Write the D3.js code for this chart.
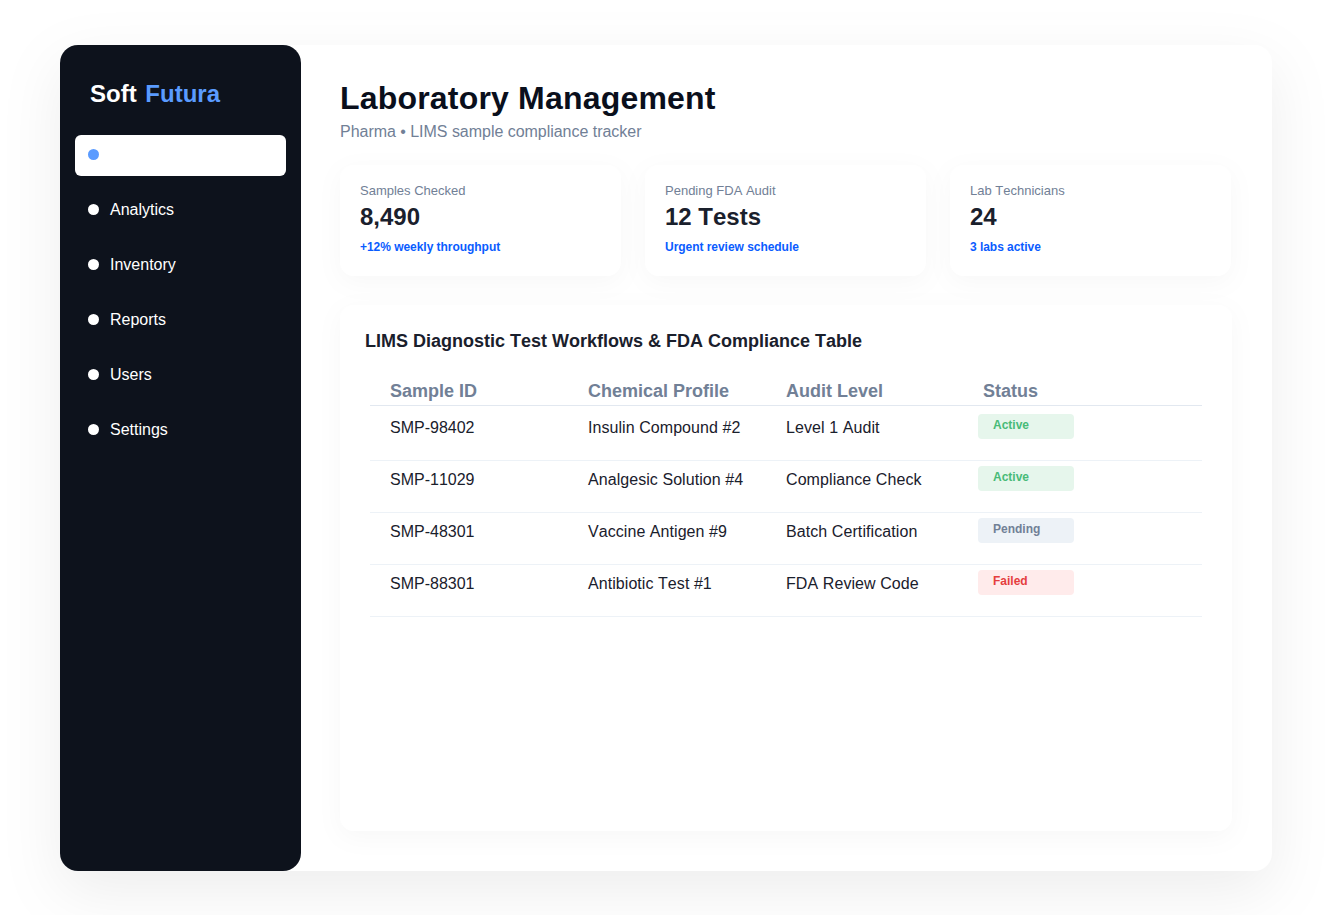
<!DOCTYPE html>
<html lang="en">
<head>
<meta charset="UTF-8">
<title>Laboratory Management</title>
<style>
    html, body { margin: 0; background: #fff; overflow: hidden; }
    svg { display: block; font-family: "Liberation Sans", Arial, sans-serif; font-kerning: none; text-rendering: optimizeSpeed; }
</style>
</head>
<body>
<script src="https://cdn.jsdelivr.net/npm/d3@7/dist/d3.min.js"></script>
<script>
    var navItems = ['Dashboard', 'Analytics', 'Inventory', 'Reports', 'Users', 'Settings'];
    var cardLabels = ['Samples Checked', 'Pending FDA Audit', 'Lab Technicians'];
    var cardValues = ['8,490', '12 Tests', '24'];
    var cardNotes = ['+12% weekly throughput', 'Urgent review schedule', '3 labs active'];
    var columns = ['Sample ID', 'Chemical Profile', 'Audit Level', 'Status'];
    var sampleIds = ['SMP-98402', 'SMP-11029', 'SMP-48301', 'SMP-88301'];
    var profiles = ['Insulin Compound #2', 'Analgesic Solution #4', 'Vaccine Antigen #9', 'Antibiotic Test #1'];
    var auditLevels = ['Level 1 Audit', 'Compliance Check', 'Batch Certification', 'FDA Review Code'];
    var statuses = ['Active', 'Active', 'Pending', 'Failed'];

    var statusFill = {Active: '#e6f6ec', Pending: '#edf2f7', Failed: '#ffebeb'};
    var statusText = {Active: '#48bb78', Pending: '#718096', Failed: '#e53e3e'};

    var svg = d3.select('body').append('svg')
            .attr('width', 1331)
            .attr('height', 915);

    var defs = svg.append('defs');
    function shadow(id, dy, blur, opacity) {
        defs.append('filter')
            .attr('id', id)
            .attr('x', '-20%').attr('y', '-50%')
            .attr('width', '140%').attr('height', '200%')
            .attr('color-interpolation-filters', 'sRGB')
            .append('feDropShadow')
            .attr('dx', 0).attr('dy', dy)
            .attr('stdDeviation', blur)
            .attr('flood-color', '#000')
            .attr('flood-opacity', opacity);
    }
    shadow('panelShadow', 20, 30, 0.07);
    shadow('cardShadow', 6, 12, 0.03);

    function box(parent, x, y, w, h, r, fill) {
        return parent.append('rect')
            .attr('x', x).attr('y', y)
            .attr('width', w).attr('height', h)
            .attr('rx', r).attr('ry', r)
            .attr('fill', fill);
    }
    function label(parent, x, y, str, size, weight, fill) {
        return parent.append('text')
            .attr('x', x).attr('y', y)
            .attr('font-size', size)
            .attr('font-weight', weight)
            .attr('fill', fill)
            .text(str);
    }

    // shell
    box(svg, 60, 45, 1212, 826, 18, '#fff').attr('filter', 'url(#panelShadow)');
    box(svg, 60, 45, 241, 826, 18, '#0d121c');

    // sidebar
    var logo = label(svg, 90, 102, 'Soft ', 24, 700, '#fff');
    logo.append('tspan').attr('fill', '#5a9bff').attr('dx', 2).text('Futura');

    var navY = d3.scalePoint().domain(navItems).range([154.5, 429.5]);

    box(svg, 75, 135, 211, 41, 6, '#fff');

    var nav = svg.selectAll('g.nav')
            .data(navItems)
            .enter()
            .append('g')
            .attr('class', 'nav')
            .attr('transform', function(d) { return 'translate(0,' + navY(d) + ')'; });

    nav.append('circle')
        .attr('cx', 93.5)
        .attr('r', 5.5)
        .attr('fill', function(d, i) { return i === 0 ? '#5a9bff' : '#fff'; });

    // active item label is white on white in the source
    nav.append('text')
        .attr('x', 110)
        .attr('y', 5.5)
        .attr('font-size', 16)
        .attr('fill', '#fff')
        .text(function(d) { return d; });

    // header
    label(svg, 340, 109, 'Laboratory Management', 32, 700, '#0a0f1c').attr('letter-spacing', 0.19);
    label(svg, 340, 137, 'Pharma \u2022 LIMS sample compliance tracker', 16, 400, '#718096').attr('letter-spacing', -0.03);

    // stat cards
    var cardX = d3.scalePoint().domain(d3.range(cardLabels.length)).range([340, 950]);
    var cards = svg.selectAll('g.card')
            .data(cardLabels)
            .enter()
            .append('g')
            .attr('class', 'card')
            .attr('transform', function(d, i) { return 'translate(' + cardX(i) + ',165)'; });

    cards.append('rect')
        .attr('width', 281).attr('height', 111)
        .attr('rx', 14).attr('ry', 14)
        .attr('fill', '#fff')
        .attr('filter', 'url(#cardShadow)');
    cards.append('text')
        .attr('x', 20).attr('y', 30)
        .attr('font-size', 13)
        .attr('fill', '#718096')
        .text(function(d) { return d; });
    cards.append('text')
        .attr('x', 20).attr('y', 60)
        .attr('font-size', 24)
        .attr('font-weight', 700)
        .attr('fill', '#1a202c')
        .text(function(d, i) { return cardValues[i]; });
    cards.append('text')
        .attr('x', 20).attr('y', 86)
        .attr('font-size', 12)
        .attr('font-weight', 700)
        .attr('fill', '#0a5cff')
        .attr('letter-spacing', -0.04)
        .text(function(d, i) { return cardNotes[i]; });

    // table card
    box(svg, 340, 305, 892, 526, 14, '#fff').attr('filter', 'url(#cardShadow)');
    label(svg, 365, 347, 'LIMS Diagnostic Test Workflows & FDA Compliance Table', 18, 700, '#1a202c');

    var colX = d3.scaleOrdinal().domain(columns).range([390, 588, 786, 983]);
    var rowY = d3.scaleBand().domain(sampleIds).range([406, 614]);

    svg.selectAll('text.head')
        .data(columns)
        .enter()
        .append('text')
        .attr('class', 'head')
        .attr('x', function(d) { return colX(d); })
        .attr('y', 397)
        .attr('font-size', 18)
        .attr('font-weight', 700)
        .attr('fill', '#718096')
        .text(function(d) { return d; });

    svg.append('line')
        .attr('x1', 370).attr('x2', 1202)
        .attr('y1', 405.5).attr('y2', 405.5)
        .attr('stroke', '#e2e8f0');

    var rows = svg.selectAll('g.row')
            .data(sampleIds)
            .enter()
            .append('g')
            .attr('class', 'row')
            .attr('transform', function(d) { return 'translate(0,' + rowY(d) + ')'; });

    rows.append('line')
        .attr('x1', 370).attr('x2', 1202)
        .attr('y1', 54.5).attr('y2', 54.5)
        .attr('stroke', '#edf2f7');

    function cell(col, values, spacing) {
        rows.append('text')
            .attr('x', colX(col))
            .attr('y', 27)
            .attr('font-size', 16)
            .attr('fill', '#1a202c')
            .attr('letter-spacing', spacing)
            .text(function(d, i) { return values[i]; });
    }
    cell(columns[0], sampleIds, 0);
    cell(columns[1], profiles, 0.06);
    cell(columns[2], auditLevels, 0.08);

    rows.append('rect')
        .attr('x', 978).attr('y', 8)
        .attr('width', 96).attr('height', 25)
        .attr('rx', 4).attr('ry', 4)
        .attr('fill', function(d, i) { return statusFill[statuses[i]]; });
    rows.append('text')
        .attr('x', 993).attr('y', 23)
        .attr('font-size', 12)
        .attr('font-weight', 700)
        .attr('fill', function(d, i) { return statusText[statuses[i]]; })
        .text(function(d, i) { return statuses[i]; });
</script>
</body>
</html>
